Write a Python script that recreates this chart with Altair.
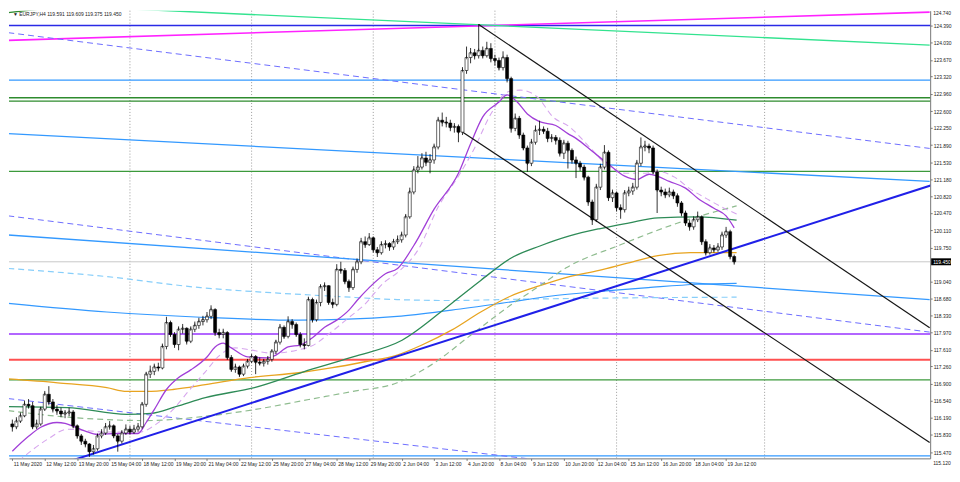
import json
import altair as alt
import pandas as pd

# ---------------- data (EURJPY, H4) ----------------
first_open = 116.06
closes = [116.00, 116.12, 116.23, 116.47, 116.44, 116.00, 116.06, 116.37, 116.68, 116.52,
          116.37, 116.33, 116.27, 116.29, 116.31, 116.02, 115.81, 115.70, 115.64, 115.48,
          115.54, 115.81, 115.87, 116.00, 116.02, 115.81, 115.70, 115.87, 115.95, 115.89,
          115.95, 116.00, 116.47, 117.10, 117.16, 117.25, 117.23, 117.68, 118.18, 117.93,
          117.72, 118.04, 118.06, 117.79, 118.04, 118.12, 118.20, 118.24, 118.31, 118.45,
          117.97, 117.93, 117.97, 117.45, 117.20, 117.25, 117.10, 117.27, 117.37, 117.47,
          117.35, 117.33, 117.37, 117.41, 117.58, 117.77, 118.08, 117.89, 118.20, 118.14,
          117.93, 117.72, 117.70, 118.66, 118.24, 118.60, 118.93, 118.95, 118.60, 118.56,
          119.29, 119.27, 119.04, 118.91, 119.29, 119.45, 119.87, 119.81, 119.95, 119.70,
          119.64, 119.81, 119.83, 119.76, 119.87, 119.91, 120.01, 120.39, 120.91, 121.37,
          121.43, 121.62, 121.53, 121.58, 121.85, 122.41, 122.37, 122.35, 122.26, 122.28,
          122.16, 123.45, 123.72, 123.82, 123.76, 123.87, 123.76, 123.91, 123.70, 123.66,
          123.51, 123.72, 123.28, 122.24, 122.45, 122.10, 121.83, 121.51, 121.95, 122.20,
          122.22, 122.18, 122.03, 122.05, 121.99, 121.72, 121.93, 121.78, 121.58, 121.51,
          121.43, 121.22, 120.70, 120.33, 121.01, 121.43, 121.74, 120.79, 120.89, 120.58,
          120.54, 120.89, 120.93, 121.01, 121.51, 121.85, 121.87, 121.83, 121.33, 120.95,
          120.91, 120.85, 120.91, 120.83, 120.68, 120.47, 120.26, 120.18, 120.33, 120.39,
          119.87, 119.64, 119.74, 119.70, 119.76, 120.01, 120.08, 119.56, 119.45]
highs = [116.15, 116.20, 116.30, 116.55, 116.58, 116.52, 116.15, 116.42, 116.75, 116.85,
         116.58, 116.45, 116.40, 116.35, 116.40, 116.35, 116.05, 115.85, 115.75, 115.66,
         115.62, 115.86, 115.95, 116.08, 116.12, 116.05, 115.85, 115.93, 116.05, 116.02,
         116.04, 116.08, 116.52, 117.15, 117.28, 117.32, 117.34, 117.74, 118.30, 118.22,
         117.98, 118.10, 118.15, 118.08, 118.10, 118.20, 118.28, 118.32, 118.40, 118.54,
         118.48, 118.05, 118.05, 118.00, 117.50, 117.32, 117.28, 117.32, 117.42, 117.52,
         117.50, 117.45, 117.42, 117.48, 117.62, 117.82, 118.15, 118.12, 118.31, 118.25,
         118.18, 117.98, 117.85, 118.72, 118.70, 118.66, 118.98, 119.02, 118.96, 118.68,
         119.40, 119.45, 119.32, 119.08, 119.35, 119.52, 119.95, 119.98, 120.05, 119.98,
         119.76, 119.88, 119.90, 119.86, 119.93, 120.00, 120.08, 120.45, 121.00, 121.45,
         121.66, 121.72, 121.75, 121.70, 121.92, 122.48, 122.57, 122.48, 122.42, 122.35,
         122.32, 123.52, 123.95, 123.92, 123.90, 124.42, 123.95, 124.05, 124.02, 123.78,
         123.72, 123.85, 123.78, 123.32, 122.55, 122.50, 122.15, 121.88, 122.02, 122.30,
         122.40, 122.28, 122.25, 122.12, 122.10, 122.05, 122.00, 121.98, 121.82, 121.65,
         121.56, 121.48, 121.25, 120.75, 121.08, 121.50, 121.89, 121.78, 120.96, 120.92,
         120.65, 120.95, 121.02, 121.10, 121.58, 122.05, 121.98, 121.92, 121.88, 121.38,
         121.02, 120.98, 121.00, 120.96, 120.88, 120.72, 120.52, 120.32, 120.40, 120.50,
         120.42, 119.92, 119.82, 119.80, 119.84, 120.08, 120.18, 120.12, 119.60]
lows = [115.90, 115.95, 116.08, 116.20, 116.38, 115.95, 115.95, 116.02, 116.33, 116.45,
        116.30, 116.25, 116.20, 116.18, 116.22, 115.97, 115.75, 115.62, 115.57, 115.37,
        115.42, 115.50, 115.76, 115.83, 115.94, 115.76, 115.48, 115.65, 115.83, 115.84,
        115.85, 115.90, 115.96, 116.42, 117.02, 117.08, 117.16, 117.20, 117.62, 117.88,
        117.65, 117.60, 117.95, 117.72, 117.75, 117.98, 118.05, 118.12, 118.18, 118.25,
        117.90, 117.85, 117.85, 117.40, 117.15, 117.13, 117.04, 117.06, 117.22, 117.33,
        117.10, 117.28, 117.26, 117.30, 117.36, 117.52, 117.72, 117.84, 117.85, 118.05,
        117.88, 117.66, 117.62, 117.68, 118.18, 118.20, 118.52, 118.84, 118.55, 118.48,
        118.52, 119.20, 118.98, 118.82, 118.86, 119.22, 119.40, 119.74, 119.78, 119.64,
        119.55, 119.60, 119.73, 119.68, 119.70, 119.82, 119.85, 119.96, 120.35, 120.86,
        121.30, 121.38, 121.45, 121.30, 121.50, 121.80, 122.28, 122.26, 122.18, 122.15,
        121.95, 122.10, 123.38, 123.60, 123.68, 123.70, 123.70, 123.72, 123.62, 123.55,
        123.45, 123.45, 123.20, 122.15, 122.18, 122.02, 121.78, 121.33, 121.45, 121.90,
        122.10, 122.12, 121.95, 121.95, 121.90, 121.65, 121.60, 121.40, 121.50, 121.20,
        121.35, 121.15, 120.62, 120.22, 120.28, 120.95, 121.38, 120.72, 120.70, 120.50,
        120.35, 120.48, 120.82, 120.85, 120.96, 121.45, 121.76, 121.72, 121.28, 120.47,
        120.82, 120.78, 120.80, 120.76, 120.60, 120.40, 120.20, 120.10, 120.12, 120.28,
        119.80, 119.58, 119.60, 119.64, 119.66, 119.70, 119.95, 119.50, 119.39]

label_bars = [0, 8, 16, 24, 32, 40, 48, 56, 64, 72, 80, 88, 96, 104, 112, 120, 128, 136,
              144, 152, 160, 168, 176]
label_texts = ["11 May 2020", "12 May 12:00", "13 May 20:00", "15 May 04:00", "18 May 12:00",
               "19 May 20:00", "21 May 04:00", "22 May 12:00", "25 May 20:00", "27 May 04:00",
               "28 May 12:00", "29 May 20:00", "2 Jun 04:00", "3 Jun 12:00", "4 Jun 20:00",
               "8 Jun 04:00", "9 Jun 12:00", "10 Jun 20:00", "12 Jun 04:00", "15 Jun 12:00",
               "16 Jun 20:00", "18 Jun 04:00", "19 Jun 12:00"]
price_ticks = [124.39, 124.03, 123.67, 123.32, 122.96, 122.60, 122.25, 121.89, 121.53,
               121.18, 120.82, 120.47, 120.11, 119.75, 119.04, 118.68, 118.33, 117.97, 117.61,
               117.26, 116.90, 116.54, 116.19, 115.83, 115.47]
price_top_label = "124.740"
price_bottom_label = "115.120"
grid_bars = [29, 59, 89, 119, 149, 185.5]
header = "EURJPY,H4  119.591 119.609 119.375 119.450"

# horizontal levels
level_blue_top = 124.39
level_sky_top = 123.25
level_green_pair = [122.88, 122.81]
level_green_mid = 121.34
level_purple = 117.94
level_red = 117.40
level_green_low = 116.98
level_sky_low = 115.39

# straight lines: (bar, price) anchors
line_blue_trend = [(-1, 114.87), (227, 121.06)]
line_magenta = [(-1, 124.08), (226.2, 124.67)]
line_spring = [(-1, 124.85), (226.2, 123.98)]
line_darkgreen = [(-1, 124.66), (40, 125.05)]
line_dash_upper = [(-1, 124.24), (226.2, 121.82)]
line_dash_mid = [(-1, 120.41), (226.2, 117.98)]
line_dash_low = [(-1, 116.59), (226.2, 114.36)]
line_sky_a = [(-1, 122.13), (226.2, 121.13)]
line_sky_b = [(-1, 120.01), (226.2, 118.66)]
line_chan_upper = [(115, 124.41), (226.2, 118.07)]
line_chan_lower = [(110.9, 122.17), (226.2, 115.67)]

# moving averages (bar, value)
ma_purple_bars = [0, 4, 7, 11, 13, 15, 18, 21, 26, 31, 33, 35, 38, 41, 44, 48, 50, 52, 54, 58,
                  63, 65, 68, 71, 74, 77, 80, 83, 85, 88, 92, 95, 99, 104, 110, 113, 116, 120,
                  122, 124.5, 127, 130, 134, 137, 139, 143, 147, 151, 154, 157, 159, 162, 166,
                  169, 173, 176, 178]
ma_purple = [115.49, 115.80, 115.99, 116.09, 116.07, 116.01, 115.91, 115.84, 115.86, 115.86,
             116.09, 116.36, 116.78, 117.03, 117.19, 117.46, 117.67, 117.75, 117.65, 117.46,
             117.44, 117.50, 117.67, 117.71, 117.86, 118.08, 118.23, 118.44, 118.64, 118.91,
             119.20, 119.31, 119.79, 120.55, 121.30, 121.92, 122.48, 122.79, 122.94, 122.79,
             122.54, 122.38, 122.30, 122.13, 122.03, 121.76, 121.49, 121.24, 121.17, 121.28,
             121.24, 121.13, 120.99, 120.78, 120.57, 120.41, 120.16]
ma_plum_bars = [1.5, 8.7, 13.6, 23.3, 31.3, 35.4, 39.6, 43.4, 47.6, 51.2, 54.9, 58.5, 64.1,
                70.6, 73.8, 78.6, 82.8, 86.9, 91.7, 94.9, 100.2, 105.1, 110, 113.8, 118,
                122.1, 125.2, 129.4, 133.3, 137.4, 142.2, 147.1, 151.2, 155.6, 159.2, 163.3,
                167.2, 171.4, 175.5, 178.6]
ma_plum = [115.28, 115.74, 115.95, 115.89, 115.89, 116.05, 116.36, 116.74, 117.15, 117.50,
           117.65, 117.61, 117.54, 117.61, 117.69, 117.98, 118.27, 118.56, 119.02, 119.22,
           119.72, 120.61, 121.24, 121.80, 122.54, 123.00, 123.04, 122.90, 122.48, 122.27,
           121.86, 121.44, 121.30, 121.30, 121.34, 121.22, 120.97, 120.76, 120.57, 120.45]
ma_green_bars = [-1, 13.6, 28.2, 34.2, 40.3, 47.6, 59.7, 71.8, 84, 96.1, 108.3, 115.5, 122.8,
                 130.1, 137.4, 144.7, 151.9, 159.2, 168.9, 178.6]
ma_green = [116.42, 116.40, 116.26, 116.28, 116.42, 116.61, 116.82, 117.15, 117.46, 117.81,
            118.58, 119.06, 119.52, 119.78, 119.99, 120.14, 120.26, 120.37, 120.39, 120.32]
ma_green_dash_bars = [-1, 11.2, 23.3, 33, 47.6, 59.7, 73.1, 84, 94.9, 103.4, 113.1, 122.8,
                      130.1, 136.7, 149.5, 164.1, 178.6]
ma_green_dash = [116.34, 116.22, 116.15, 116.13, 116.22, 116.36, 116.57, 116.74, 116.92,
                 117.30, 117.92, 118.54, 118.95, 119.33, 119.79, 120.26, 120.62]
ma_orange_bars = [-1, 11.2, 23.3, 28.2, 33, 39.6, 47.6, 58.5, 70.6, 78.6, 86.9, 94.9, 101,
                  108.3, 115.5, 122.8, 130.1, 137.4, 144.7, 151.2, 159.2, 167.2, 178.6]
ma_orange = [117.00, 116.92, 116.82, 116.74, 116.74, 116.78, 116.88, 117.03, 117.13, 117.23,
             117.36, 117.50, 117.71, 118.02, 118.40, 118.73, 118.95, 119.14, 119.27, 119.41,
             119.58, 119.64, 119.64]
ma_skydash_bars = [-1, 23.3, 46.4, 62.6, 79.1, 94.9, 108.3, 120.4, 144.7, 178.6]
ma_skydash = [119.31, 119.14, 118.91, 118.81, 118.73, 118.66, 118.64, 118.66, 118.69, 118.71]
ma_blue_bars = [-1, 23.3, 46.4, 70.6, 94.9, 108.3, 120.4, 132.5, 144.7, 156.8, 168.9, 178.6]
ma_blue = [118.58, 118.40, 118.29, 118.23, 118.31, 118.44, 118.58, 118.73, 118.83, 118.91,
           118.98, 119.00]

# ---------------- chart ----------------
W, H = 928, 451
FONT = "Liberation Sans"
xs = alt.Scale(domain=[0.4, 225.1], nice=False, zero=False)
ys = alt.Scale(domain=[115.34, 124.70], nice=False, zero=False)

opens = [first_open] + closes[:-1]
candles = pd.DataFrame({"i": list(range(len(closes))), "o": opens, "h": highs,
                        "l": lows, "c": closes})
candles["dir"] = ["up" if c >= o else "down" for o, c in zip(opens, closes)]

X = lambda f: alt.X(f, type="quantitative", scale=xs, axis=None)
Y = lambda f: alt.Y(f, type="quantitative", scale=ys, axis=None)


def hline(price, color, width):
    return alt.Chart(pd.DataFrame({"p": [price]})).mark_rule(
        color=color, strokeWidth=width).encode(y=Y("p"))


def pline(points, color, width=1.0, dash=None, interp="linear"):
    df = pd.DataFrame(points, columns=["i", "p"])
    kw = dict(color=color, strokeWidth=width, clip=True, interpolate=interp)
    if dash:
        kw["strokeDash"] = dash
    return alt.Chart(df).mark_line(**kw).encode(x=X("i"), y=Y("p"))


def ma(bars, vals, color, width=1.0, dash=None):
    return pline(list(zip(bars, vals)), color, width, dash, "monotone")


def fixed_text(txt, px, py, baseline, color="#222", align="left"):
    return alt.Chart(pd.DataFrame({"t": [txt]})).mark_text(
        fontSize=5, font=FONT, align=align, baseline=baseline, color=color).encode(
        x=alt.value(px), y=alt.value(py), text="t:N")


label_expr = f"{json.dumps(label_texts)}[indexof({json.dumps(label_bars)}, datum.value)]"

grid = alt.Chart(pd.DataFrame({"i": grid_bars})).mark_rule(
    color="#9a9a9a", strokeDash=[1, 2], strokeWidth=1).encode(x=X("i"))

bid = hline(closes[-1], "#c8c8c8", 1)

layers = [grid, bid,
          hline(level_blue_top, "#2a2ae6", 1.5),
          hline(level_sky_top, "#3399ff", 1.3),
          hline(level_green_pair[0], "#2e8b2e", 1.3),
          hline(level_green_pair[1], "#2e8b2e", 1.3),
          hline(level_green_mid, "#3c9a3c", 1.3),
          hline(level_purple, "#9933ff", 1.5),
          hline(level_red, "#ff5050", 2),
          hline(level_green_low, "#3c9a3c", 1.3),
          hline(level_sky_low, "#3399ff", 1.3),
          pline(line_magenta, "#ff22ff", 1.6),
          pline(line_spring, "#33e38f", 1.4),
          pline(line_darkgreen, "#2e8b2e", 1.4),
          pline(line_dash_upper, "#6d6dff", 1.0, [6, 4]),
          pline(line_dash_mid, "#6d6dff", 1.0, [6, 4]),
          pline(line_dash_low, "#6d6dff", 1.0, [6, 4]),
          pline(line_sky_a, "#3399ff", 1.3),
          pline(line_sky_b, "#3399ff", 1.3),
          ma(ma_skydash_bars, ma_skydash, "#87cefa", 1.2, [6, 4]),
          ma(ma_blue_bars, ma_blue, "#3399ff", 1.2),
          ma(ma_orange_bars, ma_orange, "#e8a420", 1.3),
          ma(ma_green_dash_bars, ma_green_dash, "#8fbc8f", 1.2, [6, 4]),
          ma(ma_green_bars, ma_green, "#2e8b57", 1.3),
          ma(ma_plum_bars, ma_plum, "#d7a6ee", 1.1, [6, 4]),
          ma(ma_purple_bars, ma_purple, "#a13fd8", 1.3),
          pline(line_blue_trend, "#2020e8", 2.0),
          pline(line_chan_upper, "#151515", 1.2),
          pline(line_chan_lower, "#151515", 1.2)]

base = alt.Chart(candles)
wicks = base.mark_rule(color="#000000", strokeWidth=0.8, clip=True).encode(
    x=X("i"), y=Y("l"), y2="h")
bodies = base.mark_bar(size=3, stroke="#000000", strokeWidth=0.6, clip=True).encode(
    x=alt.X("i:Q", scale=xs,
            axis=alt.Axis(values=label_bars, labelExpr=label_expr, orient="bottom",
                          labelAlign="left", labelOffset=1, labelPadding=1, tickSize=2,
                          labelFontSize=5, labelFont=FONT, labelColor="#222",
                          domainColor="#777", tickColor="#777", grid=False, title=None,
                          labelOverlap=False, labelFlush=False, labelBound=False)),
    y=alt.Y("o:Q", scale=ys,
            axis=alt.Axis(values=price_ticks, format=".3f", orient="right", tickSize=2,
                          labelPadding=1, labelFontSize=5, labelFont=FONT, labelColor="#222",
                          domainColor="#777", tickColor="#777", grid=False, title=None,
                          labelOverlap=False, labelFlush=False, labelBound=False)),
    y2="c",
    color=alt.Color("dir:N", scale=alt.Scale(domain=["up", "down"],
                                             range=["#ffffff", "#000000"]), legend=None))
doji = base.mark_tick(color="#000000", size=3.6, thickness=0.8, clip=True).encode(
    x=X("i"), y=Y("c"))

last = pd.DataFrame({"p": [closes[-1]], "t": [f"{closes[-1]:.3f}"]})
box = alt.Chart(last).mark_point(
    shape="M -1 -0.35 L 1 -0.35 L 1 0.35 L -1 0.35 Z", filled=True, color="#000000",
    opacity=1, size=400).encode(x=alt.value(W + 11), y=Y("p"))
box_txt = alt.Chart(last).mark_text(color="#ffffff", fontSize=5, font=FONT, align="left",
                                    baseline="middle").encode(
    x=alt.value(W + 3), y=Y("p"), text="t:N")
top_lbl = fixed_text(price_top_label, W + 3, 0, "top")
bottom_lbl = fixed_text(price_bottom_label, W + 3, H + 5, "middle")
head = fixed_text("▼ " + header, 4, 1, "top")

chart = alt.layer(*layers, wicks, bodies, doji, box, box_txt, top_lbl, bottom_lbl,
                  head).properties(
    width=W, height=H, padding=0, background="#ffffff"
).resolve_axis(x="independent", y="independent").resolve_scale(
    color="independent").configure_view(stroke=None)

chart.save("out.html", embed_options={"renderer": "svg", "actions": False})
